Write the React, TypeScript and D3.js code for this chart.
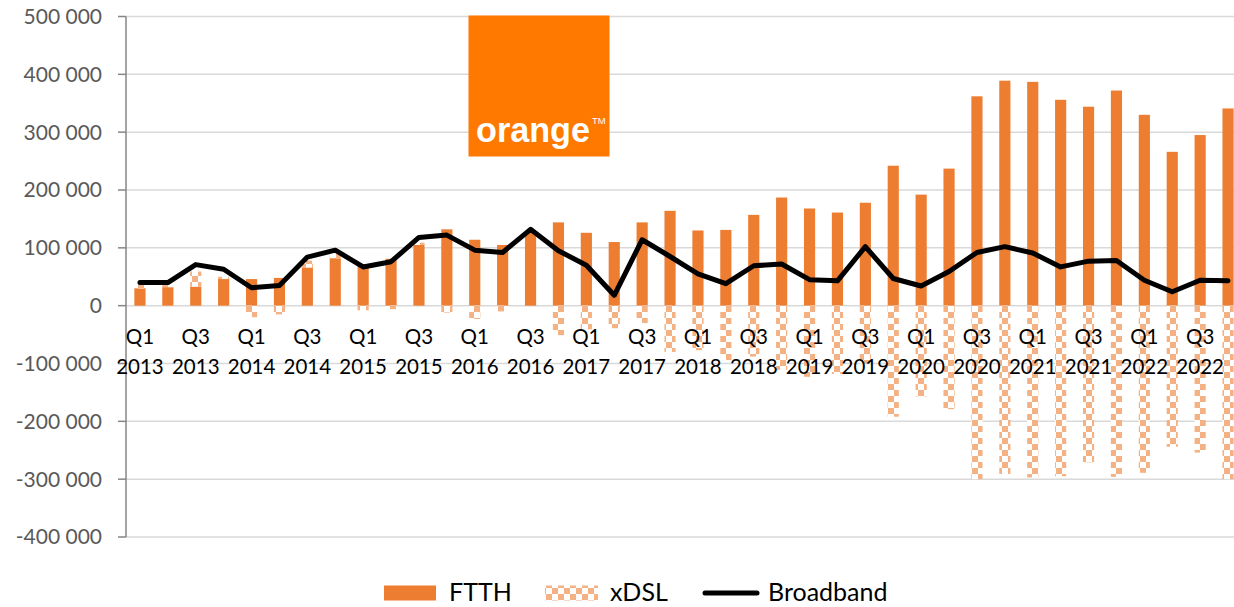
import React from "react";
import * as d3 from "d3";

const categories = [
  "Q1 2013", "Q2 2013", "Q3 2013", "Q4 2013",
  "Q1 2014", "Q2 2014", "Q3 2014", "Q4 2014",
  "Q1 2015", "Q2 2015", "Q3 2015", "Q4 2015",
  "Q1 2016", "Q2 2016", "Q3 2016", "Q4 2016",
  "Q1 2017", "Q2 2017", "Q3 2017", "Q4 2017",
  "Q1 2018", "Q2 2018", "Q3 2018", "Q4 2018",
  "Q1 2019", "Q2 2019", "Q3 2019", "Q4 2019",
  "Q1 2020", "Q2 2020", "Q3 2020", "Q4 2020",
  "Q1 2021", "Q2 2021", "Q3 2021", "Q4 2021",
  "Q1 2022", "Q2 2022", "Q3 2022", "Q4 2022",
];

const ftth = [
  30000, 32000, 33000, 46000, 46000, 48000, 66000, 82000, 72000, 81000,
  105000, 132000, 114000, 105000, 128000, 144000, 126000, 110000, 144000, 164000,
  130000, 131000, 157000, 187000, 168000, 161000, 178000, 242000, 192000, 237000,
  362000, 389000, 387000, 356000, 344000, 372000, 330000, 266000, 295000, 341000,
];

const xdsl = [
  7000, 5000, 26000, 4000, -20000, -15000, 12000, 8000, -8000, -6000,
  4000, -12000, -23000, -10000, 0, -51000, -41000, -39000, -30000, -80000,
  -77000, -94000, -88000, -111000, -123000, -118000, -100000, -192000, -157000, -179000,
  -300000, -291000, -297000, -295000, -271000, -296000, -289000, -244000, -254000, -300000,
];

const broadband = [
  40000, 40000, 71000, 63000, 31000, 35000, 84000, 96000, 67000, 76000,
  118000, 122000, 96000, 92000, 132000, 95000, 70000, 18000, 114000, 85000,
  55000, 38000, 69000, 72000, 45000, 43000, 102000, 47000, 34000, 59000,
  92000, 102000, 91000, 67000, 77000, 78000, 44000, 24000, 44000, 43000,
];

const yTicks = [-400000, -300000, -200000, -100000, 0, 100000, 200000, 300000, 400000, 500000];

const seriesNames = ["FTTH", "xDSL", "Broadband"];

const W = 1234;
const H = 607;
const FONT = "Lato, 'Open Sans', sans-serif";

const fmt = d3
  .formatLocale({ decimal: ".", thousands: " ", grouping: [3], currency: ["", ""], minus: "-" })
  .format(",d");

export default function App() {
  const x = d3.scaleBand<string>().domain(categories).range([126, 1242]).paddingInner(0.6).paddingOuter(0.3);
  const y = d3.scaleLinear().domain([-400000, 500000]).range([537, 16.5]);

  const rows = categories.map((c, i) => ({ cat: c, FTTH: ftth[i], xDSL: xdsl[i] }));
  const stacked = d3
    .stack<any>()
    .keys(["FTTH", "xDSL"])
    .offset(d3.stackOffsetDiverging)(rows);

  const line = d3
    .line<number>()
    .x((_, i) => (x(categories[i]) as number) + x.bandwidth() / 2)
    .y((d) => y(d));

  const plotLeft = 126;

  return (
    <svg
      width={W}
      height={H}
      style={{ position: "absolute", left: 0, top: 0, background: "#fff" }}
      fontFamily={FONT}
    >
      <defs>
        <pattern id="chk" width={12} height={12} patternUnits="userSpaceOnUse">
          <rect width={12} height={12} fill="#ffffff" />
          <rect x={0} y={0} width={6} height={6} fill="#F4B183" />
          <rect x={6} y={6} width={6} height={6} fill="#F4B183" />
        </pattern>
      </defs>

      {/* gridlines */}
      {yTicks.map((t) => (
        <line key={"g" + t} x1={plotLeft} x2={W} y1={y(t)} y2={y(t)} stroke="#D9D9D9" strokeWidth={1.5} />
      ))}

      {/* y axis */}
      <line x1={plotLeft} x2={plotLeft} y1={y(500000)} y2={y(-400000)} stroke="#868686" strokeWidth={1.5} />
      {yTicks.map((t) => (
        <g key={"t" + t}>
          <line x1={plotLeft - 8} x2={plotLeft} y1={y(t)} y2={y(t)} stroke="#868686" strokeWidth={1.5} />
          <text x={102} y={y(t) + 7.4} textAnchor="end" fontSize={21} fill="#595959">
            {fmt(t)}
          </text>
        </g>
      ))}

      {/* bars */}
      {stacked.map((s) => (
        <g key={s.key} fill={s.key === "FTTH" ? "#ED7D31" : "url(#chk)"}>
          {s.map((d, i) => {
            const y0 = y(d[0]);
            const y1 = y(d[1]);
            const top = Math.min(y0, y1);
            const h = Math.abs(y1 - y0);
            return (
              <rect
                key={i}
                x={x(categories[i]) as number}
                y={top}
                width={x.bandwidth()}
                height={h}
              />
            );
          })}
        </g>
      ))}

      {/* x labels */}
      {categories.map((c, i) => {
        if (i % 2 !== 0) return null;
        const [q, yr] = c.split(" ");
        const cx = (x(c) as number) + x.bandwidth() / 2;
        return (
          <text key={"x" + c} textAnchor="middle" fontSize={20.5} fill="#000">
            <tspan x={cx} y={344}>{q}</tspan>
            <tspan x={cx} y={374}>{yr}</tspan>
          </text>
        );
      })}

      {/* broadband line */}
      <path
        d={line(broadband) || ""}
        fill="none"
        stroke="#000"
        strokeWidth={5}
        strokeLinejoin="round"
        strokeLinecap="round"
      />

      {/* orange logo */}
      <g>
        <rect x={468.5} y={15.5} width={141} height={141} fill="#FF7900" />
        <text
          x={476}
          y={142}
          fontFamily="'Liberation Sans', Arial, sans-serif"
          fontWeight="bold"
          fontSize={35}
          fill="#fff"
          textLength={114}
          lengthAdjust="spacingAndGlyphs"
        >
          orange
        </text>
        <text x={592} y={124} fontFamily="'Liberation Sans', Arial, sans-serif" fontSize={9.5} fill="#fff">
          TM
        </text>
      </g>

      {/* legend */}
      <g fontSize={25} fill="#000">
        <rect x={384} y={585.5} width={52} height={15} fill="#ED7D31" />
        <text x={449} y={601}>{seriesNames[0]}</text>
        <rect x={545} y={585.5} width={53} height={15} fill="url(#chk)" />
        <text x={610} y={601}>{seriesNames[1]}</text>
        <line x1={705} x2={757} y1={593} y2={593} stroke="#000" strokeWidth={5} strokeLinecap="round" />
        <text x={768} y={601}>{seriesNames[2]}</text>
      </g>
    </svg>
  );
}
